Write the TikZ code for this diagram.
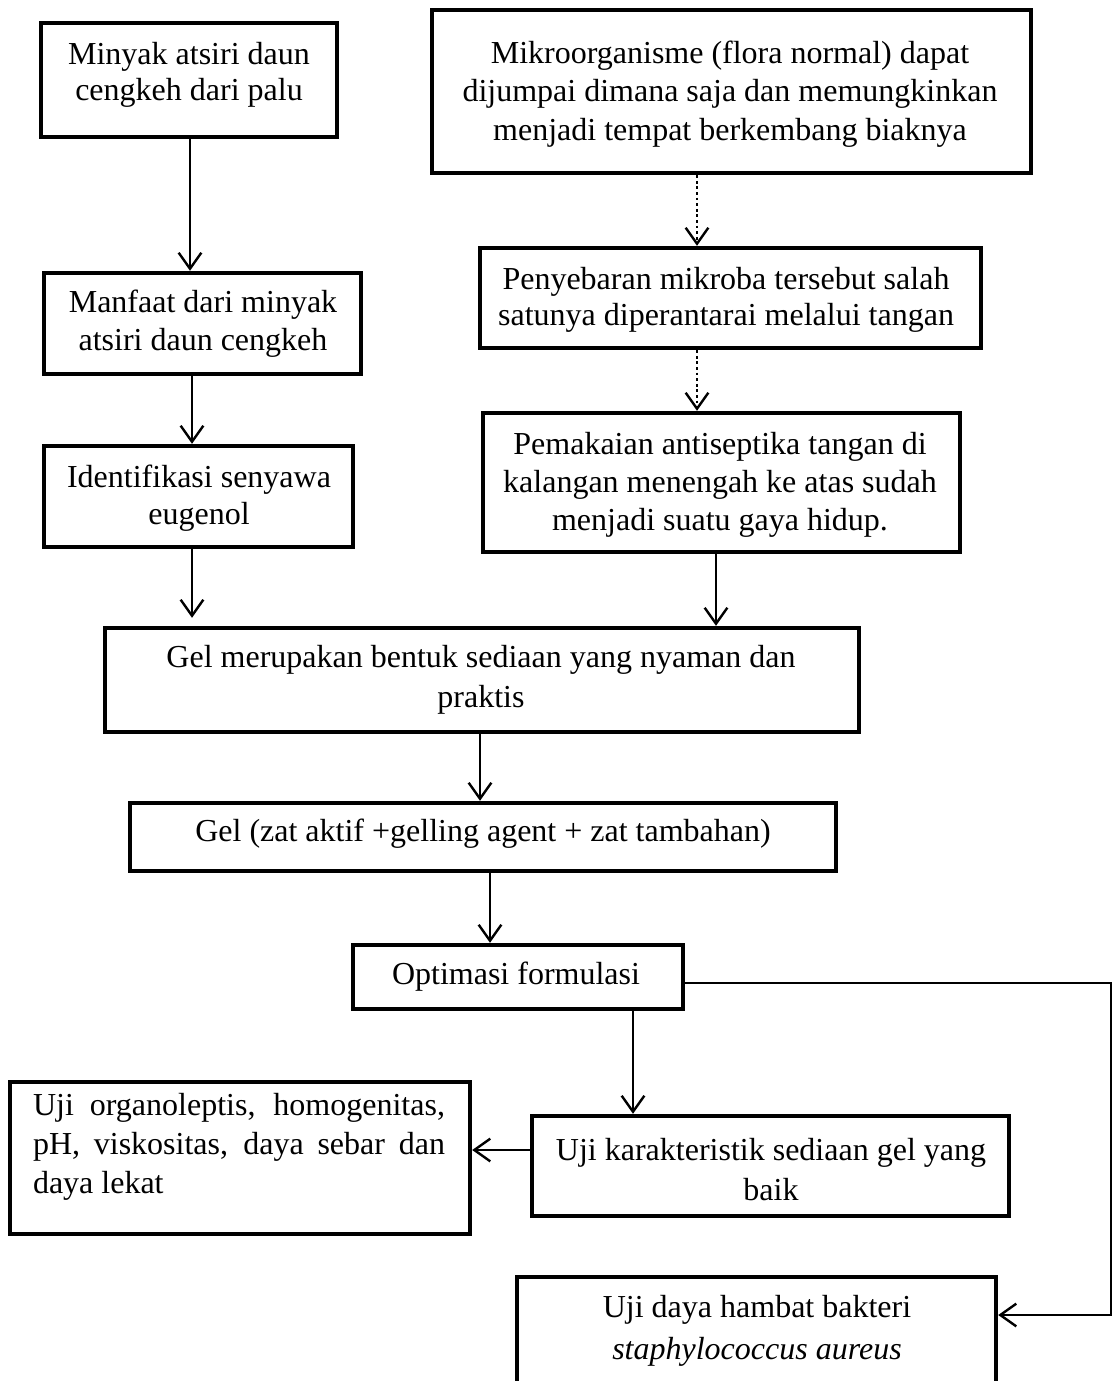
\documentclass[tikz,border=0pt]{standalone}
\usepackage{fontspec}
\setmainfont{Liberation Serif}
\usetikzlibrary{arrows.meta,fit,calc}
\begin{document}
\begin{tikzpicture}[x=0.75pt,y=-0.75pt,
  boxst/.style={draw, line width=3.3pt, inner sep=0pt},
  txt/.style={font=\fontsize{24}{28.5}\selectfont, align=center, inner sep=0pt},
  conn/.style={line width=1.8pt, -{Straight Barb[length=12pt,width=17pt,line width=1.8pt]}},
  dotconn/.style={conn, dash pattern=on 2.1pt off 2.1pt},
  thinconn/.style={line width=1.3pt, -{Straight Barb[length=12pt,width=17pt,line width=1.8pt]}},
]
\clip (0,0) rectangle (1113,1381);
% boxes
\node[boxst, fit={(41,23) (337,137)}] (a) {};
\node[boxst, fit={(432,10) (1031,173)}] (b) {};
\node[boxst, fit={(44,273) (361,374)}] (manf) {};
\node[boxst, fit={(480,248) (981,348)}] (peny) {};
\node[boxst, fit={(44,446) (353,547)}] (ident) {};
\node[boxst, fit={(483,413) (960,552)}] (pem) {};
\node[boxst, fit={(105,628) (859,732)}] (gel) {};
\node[boxst, fit={(130,803) (836,871)}] (gelz) {};
\node[boxst, fit={(353,945) (683,1009)}] (opt) {};
\node[boxst, fit={(10,1082) (470,1234)}] (org) {};
\node[boxst, fit={(532,1116) (1009,1216)}] (kar) {};
\node[boxst, fit={(517,1277) (996,1420)}] (ham) {};
% texts
\node[txt, font=\fontsize{24}{26.5}\selectfont] (a-t) at (189,75) {Minyak atsiri daun\\cengkeh dari palu};
\node[txt, font=\fontsize{24}{29}\selectfont] (b-t) at (730,94) {Mikroorganisme (flora normal) dapat\\dijumpai dimana saja dan memungkinkan\\menjadi tempat berkembang biaknya};
\node[txt] (manf-t) at (203,324) {Manfaat dari minyak\\atsiri daun cengkeh};
\node[txt, font=\fontsize{24}{27}\selectfont] (peny-t) at (726,300) {Penyebaran mikroba tersebut salah\\satunya diperantarai melalui tangan};
\node[txt, font=\fontsize{24}{28}\selectfont] (ident-t) at (199,498) {Identifikasi senyawa\\eugenol};
\node[txt] (pem-t) at (720,485) {Pemakaian antiseptika tangan di\\kalangan menengah ke atas sudah\\menjadi suatu gaya hidup.};
\node[txt, font=\fontsize{24}{30}\selectfont] (gel-t) at (481,680) {Gel merupakan bentuk sediaan yang nyaman dan\\praktis};
\node[txt] (gelz-t) at (483,834) {Gel (zat aktif +gelling agent + zat tambahan)};
\node[txt] (opt-t) at (516,977) {Optimasi formulasi};
\node[txt, align=left, font=\fontsize{24}{29}\selectfont] (org-t) at (239,1147) {\makebox[309pt][s]{Uji organoleptis, homogenitas,}\\\makebox[309pt][s]{pH, viskositas, daya sebar dan}\\daya lekat};
\node[txt, font=\fontsize{24}{30}\selectfont] (kar-t) at (771,1170) {Uji karakteristik sediaan gel yang\\baik};
\node[txt, font=\fontsize{24}{31.5}\selectfont] (ham-t) at (757,1331) {Uji daya hambat bakteri\\\textit{staphylococcus aureus}};
% helper coordinates
\coordinate (xa) at (190,0);
\coordinate (xm) at (192,0);
\coordinate (xb) at (697,0);
\coordinate (xpem) at (716,0);
\coordinate (xgel) at (480,0);
\coordinate (xgz) at (490,0);
\coordinate (xopt) at (633,0);
\coordinate (yopt) at (0,983);
\coordinate (xr) at (1111,0);
\coordinate (yh) at (0,1315);
\coordinate (yorg) at (0,1150);
% connectors
\draw[conn] (a.south -| xa) -- (manf.north -| xa);
\draw[conn] (manf.south -| xm) -- (ident.north -| xm);
\draw[conn, shorten >=6pt] (ident.south -| xm) -- (gel.north -| xm);
\draw[dotconn] (b.south -| xb) -- (peny.north -| xb);
\draw[dotconn] (peny.south -| xb) -- (pem.north -| xb);
\draw[conn] (pem.south -| xpem) -- (gel.north -| xpem);
\draw[conn] (gel.south -| xgel) -- (gelz.north -| xgel);
\draw[conn] (gelz.south -| xgz) -- (opt.north -| xgz);
\draw[conn] (opt.south -| xopt) -- (kar.north -| xopt);
\draw[conn] (kar.west |- yorg) -- (org.east |- yorg);
\draw[thinconn] (opt.east |- yopt) -- (xr |- yopt) -- (xr |- yh) -- (ham.east |- yh);
\end{tikzpicture}
\end{document}
